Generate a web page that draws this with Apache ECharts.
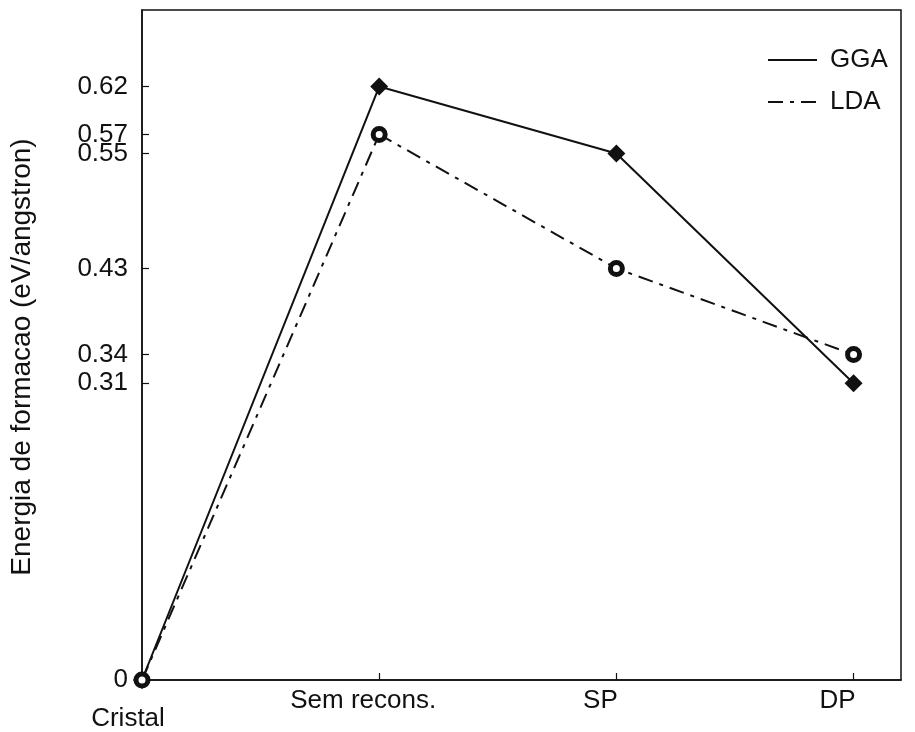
<!DOCTYPE html>
<html>
<head>
<meta charset="utf-8">
<script src="https://cdn.jsdelivr.net/npm/echarts@6/dist/echarts.min.js"></script>
<style>
  html, body { margin: 0; padding: 0; background: #fff; }
  #chart { width: 915px; height: 732px; }
</style>
</head>
<body>
<div id="chart"></div>
<script>
// Formation energy per structure, two functionals
const categories = ['Cristal', 'Sem recons.', 'SP', 'DP'];
const ggaValues = [0, 0.62, 0.55, 0.31];
const ldaValues = [0, 0.57, 0.43, 0.34];
const seriesNames = ['GGA', 'LDA'];
const yTickValues = [0, 0.31, 0.34, 0.43, 0.55, 0.57, 0.62];
const yTickLabels = ['0', '0.31', '0.34', '0.43', '0.55', '0.57', '0.62'];
const yAxisTitle = 'Energia de formacao (eV/angstron)';

const FONT = '"Liberation Sans", Arial, Helvetica, sans-serif';
const INK = '#111';

const toPoints = vals => vals.map((v, i) => [i, v]);
const categoryIndex = categories.map((_, i) => i);

const chart = echarts.init(document.getElementById('chart'), null, { renderer: 'canvas' });

chart.setOption({
  backgroundColor: '#fff',
  animation: false,
  grid: {
    left: 140, right: 14, top: 10, bottom: 52,
    show: true, borderColor: INK, borderWidth: 1.5,
    containLabel: false
  },
  legend: {
    data: seriesNames,
    orient: 'vertical',
    left: 762, top: 42,
    itemWidth: 49, itemHeight: 14, itemGap: 16,
    itemStyle: { opacity: 0 },
    textStyle: { fontFamily: FONT, fontSize: 26, color: INK, padding: [0, 0, 0, 8] }
  },
  xAxis: {
    type: 'value',
    min: 0, max: 3.2,
    splitLine: { show: false },
    axisLine: { show: true, lineStyle: { color: INK, width: 1.5 } },
    axisTick: { show: true, inside: true, length: 7, customValues: categoryIndex, lineStyle: { color: INK, width: 1.2 } },
    axisLabel: {
      customValues: categoryIndex,
      margin: 8,
      fontFamily: FONT, fontSize: 26, color: INK,
      formatter: v => {
        const name = categories[Math.round(v)];
        return Math.round(v) === 0 ? '{first|' + name + '}' : '{lbl|' + name + '}';
      },
      rich: {
        first: { fontFamily: FONT, fontSize: 26, color: INK, padding: [18, 28, 0, 0] },
        lbl: { fontFamily: FONT, fontSize: 26, color: INK, padding: [0, 32, 0, 0] }
      }
    }
  },
  yAxis: {
    type: 'value',
    min: 0, max: 0.7,
    name: yAxisTitle,
    nameLocation: 'middle',
    nameGap: 106,
    nameTextStyle: { fontFamily: FONT, fontSize: 28, color: INK, padding: [0, 24, 0, 0] },
    splitLine: { show: false },
    axisLine: { show: true, lineStyle: { color: INK, width: 1.5 } },
    axisTick: { show: true, inside: true, length: 7, customValues: yTickValues, lineStyle: { color: INK, width: 1.2 } },
    axisLabel: {
      customValues: yTickValues,
      margin: 14,
      fontFamily: FONT, fontSize: 26, color: INK,
      formatter: v => {
        const k = yTickValues.findIndex(t => Math.abs(t - v) < 1e-9);
        return k >= 0 ? yTickLabels[k] : '';
      }
    }
  },
  series: [
    {
      name: seriesNames[0],
      type: 'line',
      data: toPoints(ggaValues),
      symbol: 'diamond',
      symbolSize: 18,
      itemStyle: { color: INK },
      lineStyle: { color: INK, width: 2, type: 'solid' },
      z: 3
    },
    {
      name: seriesNames[1],
      type: 'line',
      data: toPoints(ldaValues),
      symbol: 'circle',
      symbolSize: 12,
      itemStyle: { color: '#fff', borderColor: INK, borderWidth: 5 },
      lineStyle: { color: INK, width: 2, type: [15, 7, 4, 7] },
      z: 4
    }
  ]
});
</script>
</body>
</html>
